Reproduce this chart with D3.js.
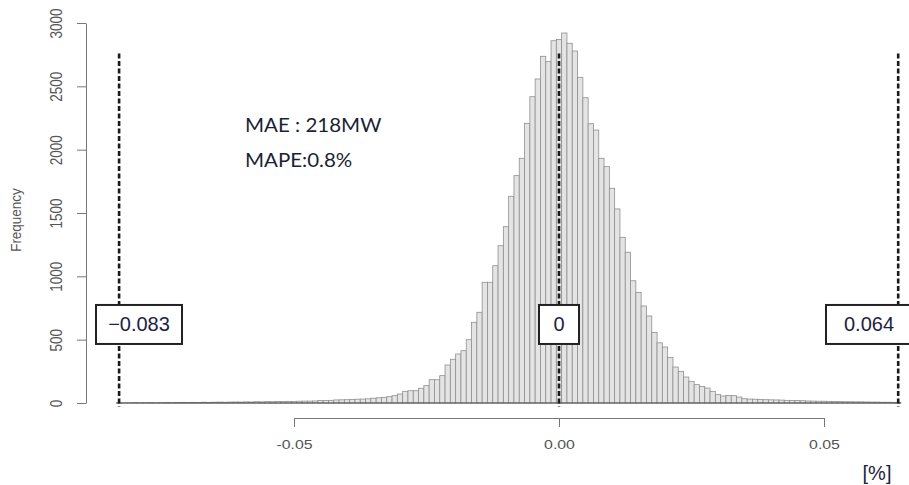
<!DOCTYPE html>
<html>
<head>
<meta charset="utf-8">
<script src="https://cdn.jsdelivr.net/npm/d3@7"></script>
<style>
  html, body { margin: 0; padding: 0; background: #fff; overflow: hidden; }
  svg { display: block; }
</style>
</head>
<body>
<svg id="chart" width="909" height="485"></svg>
<script>
// Forecast error histogram: bins of width 0.001, centred from -0.083 to 0.064
const binWidth = 0.001;
const firstBinMid = -0.083;
const counts = [
  2, 1, 1, 3, 2, 2, 3, 2, 3, 4, 3, 4, 5, 4,
  5, 4, 6, 5, 6, 7, 6, 7, 8, 7, 9, 8, 10, 9,
  11, 10, 12, 11, 13, 12, 14, 15, 15, 16,
  19, 20, 21,
  24, 25, 26,
  28, 30, 31, 33,
  38, 41,
  45, 50, 58, 71, 92, 97, 97, 116, 137, 184, 184, 216, 300, 345, 387, 413, 500,
  637, 716, 953, 953, 1084, 1242, 1392, 1632, 1795, 1932, 2208, 2418, 2558, 2737, 2695, 2860,
  2870, 2921, 2840, 2779, 2571, 2410, 2205, 2155, 1932, 1866, 1695, 1532, 1308, 1190, 965, 872, 766, 687, 556, 475,
  442, 360, 284, 250, 205, 171, 145, 131, 118, 92, 66, 55, 60, 58, 47,
  34, 31, 30, 28, 26, 25, 24, 23, 21, 20, 19, 18,
  16, 15, 14, 14, 13, 12, 11, 10, 10, 9, 9, 8,
  7, 7, 6, 6, 5, 4
];

const yTicks = [0, 500, 1000, 1500, 2000, 2500, 3000];
const xTicks = [-0.05, 0, 0.05];
const xTickLabels = ["-0.05", "0.00", "0.05"];
const yTitle = "Frequency";
const xUnit = "[%]";

// Reference lines: minimum error, zero, maximum error
const markerValues = [-0.083, 0, 0.064];
const markerLabels = ["\u22120.083", "0", "0.064"];

const statLines = ["MAE : 218MW", "MAPE:0.8%"];

const bins = counts.map((c, i) => {
  const mid = Math.round((firstBinMid + i * binWidth) * 1e6) / 1e6;
  return { x0: mid - binWidth / 2, x1: mid + binWidth / 2, count: c };
});

const svg = d3.select("#chart");
const W = 909, H = 485;

const x = d3.scaleLinear().domain([-0.05, 0.05]).range([294, 824]);
const y = d3.scaleLinear().domain([0, 3000]).range([403, 23]);

const axisFont = "'Liberation Sans', Arial, Helvetica, sans-serif";
const axisColor = "#555";

// Histogram bars
svg.append("g")
  .selectAll("rect")
  .data(bins)
  .join("rect")
  .attr("x", d => x(d.x0))
  .attr("y", d => y(d.count))
  .attr("width", d => x(d.x1) - x(d.x0))
  .attr("height", d => y(0) - y(d.count))
  .attr("fill", "#e4e4e4")
  .attr("stroke", "#8f8f8f")
  .attr("stroke-width", 0.8);

// Bottom edge of the histogram across its whole range
svg.append("line")
  .attr("x1", x(bins[0].x0)).attr("x2", x(bins[bins.length - 1].x1))
  .attr("y1", y(0)).attr("y2", y(0))
  .attr("stroke", "#444").attr("stroke-width", 1);

// Y axis (labels parallel to the axis)
const yAxis = svg.append("g")
  .attr("transform", "translate(86,0)")
  .call(d3.axisLeft(y).tickValues(yTicks).tickSize(9).tickSizeOuter(0).tickFormat(d3.format("d")));
yAxis.selectAll("path, line").attr("stroke", "#777");
yAxis.selectAll("text")
  .attr("x", null).attr("dy", null)
  .attr("text-anchor", "middle")
  .attr("transform", "translate(-24,0) scale(1.2,1) rotate(-90)")
  .attr("fill", axisColor)
  .style("font-family", axisFont)
  .style("font-size", "13.5px");

svg.append("text")
  .attr("transform", "translate(21,220) scale(1.15,1) rotate(-90)")
  .attr("text-anchor", "middle")
  .attr("fill", axisColor)
  .style("font-family", axisFont)
  .style("font-size", "13.5px")
  .text(yTitle);

// X axis
const xAxis = svg.append("g")
  .attr("transform", "translate(0,418)")
  .call(d3.axisBottom(x).tickValues(xTicks).tickSize(9).tickSizeOuter(0)
    .tickFormat((d, i) => xTickLabels[i]));
xAxis.selectAll("path, line").attr("stroke", "#777");
xAxis.selectAll("text")
  .attr("y", null).attr("dy", null)
  .attr("transform", "translate(0,31) scale(1.22,1)")
  .attr("fill", axisColor)
  .style("font-family", axisFont)
  .style("font-size", "13px");

svg.append("text")
  .attr("x", 877).attr("y", 480)
  .attr("text-anchor", "middle")
  .attr("fill", "#1c2340")
  .style("font-family", axisFont)
  .style("font-size", "20px")
  .text(xUnit);

// Dashed reference lines with value boxes
const lineTop = y(2760), lineBottom = y(-28);
const boxCy = y(620), boxH = 39;
const markers = markerValues.map((v, i) => ({ v, label: markerLabels[i], w: v === 0 ? 40 : 86 }));

svg.append("g").selectAll("line")
  .data(markers)
  .join("line")
  .attr("x1", d => x(d.v)).attr("x2", d => x(d.v))
  .attr("y1", lineTop).attr("y2", lineBottom)
  .attr("stroke", "#1a1a1a")
  .attr("stroke-width", 2.6)
  .attr("stroke-dasharray", "5,2.5");

const boxG = svg.append("g").selectAll("g")
  .data(markers)
  .join("g")
  .attr("transform", d => {
    const cx = Math.max(96 + d.w / 2, Math.min(912 - d.w / 2, x(d.v)));
    return `translate(${cx},${boxCy})`;
  });

boxG.append("rect")
  .attr("x", d => -d.w / 2).attr("y", -boxH / 2)
  .attr("width", d => d.w).attr("height", boxH)
  .attr("fill", "#fff")
  .attr("stroke", "#222")
  .attr("stroke-width", 2);

boxG.append("text")
  .attr("text-anchor", "middle")
  .attr("y", 7)
  .attr("fill", "#1c2340")
  .style("font-family", axisFont)
  .style("font-size", "20px")
  .text(d => d.label);

// Error statistics
svg.append("g").selectAll("text")
  .data(statLines)
  .join("text")
  .attr("transform", (d, i) => `translate(245,${132 + i * 35}) scale(1.08,1)`)
  .attr("fill", "#1a1f33")
  .style("font-family", "Lato, 'Open Sans', sans-serif")
  .style("font-size", "19px")
  .text(d => d);
</script>
</body>
</html>
